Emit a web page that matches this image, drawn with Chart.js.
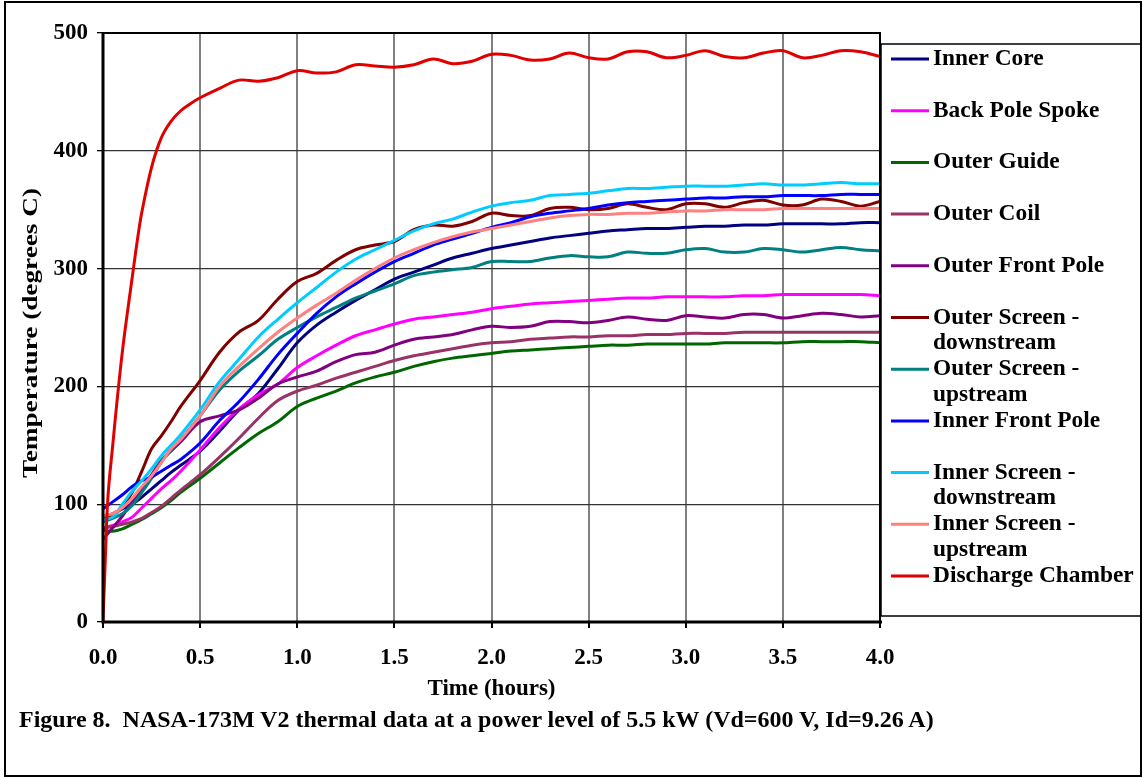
<!DOCTYPE html>
<html>
<head>
    <title>NASA-173M V2 thermal data</title>
    <script src="https://cdn.jsdelivr.net/npm/chart.js"></script>
    <style>
        body { margin: 0; background: #fff; }
        .frame {
            position: relative;
            width: 1144px;
            height: 778px;
        }
        .border {
            position: absolute;
            left: 4px;
            top: 1px;
            width: 1134px;
            height: 772px;
            border: 2px solid #000;
            pointer-events: none;
        }
        .caption {
            position: absolute;
            left: 19px;
            top: 706px;
            font: bold 24px "Liberation Serif", serif;
            color: #000;
            white-space: pre;
        }
    </style>
</head>
<body>
    <div class="frame">
        <canvas id="thermalChart" width="1144" height="778"></canvas>
        <div class="border"></div>
        <div class="caption">Figure 8.  NASA-173M V2 thermal data at a power level of 5.5 kW (Vd=600 V, Id=9.26 A)</div>
    </div>

    <script>
        // time in hours, shared by all series except the discharge chamber
        const times = [0, 0.05, 0.1, 0.15, 0.2, 0.25, 0.3, 0.35, 0.4,
            0.5, 0.6, 0.7, 0.8, 0.9, 1.0, 1.1, 1.2, 1.3, 1.4, 1.5,
            1.6, 1.7, 1.8, 1.9, 2.0, 2.1, 2.2, 2.3, 2.4, 2.5,
            2.6, 2.7, 2.8, 2.9, 3.0, 3.1, 3.2, 3.3, 3.4, 3.5,
            3.6, 3.7, 3.8, 3.9, 4.0];

        const innerCore = [88, 92, 96, 100, 106, 113, 120, 127, 133,
            145, 162, 180, 194, 215, 237, 252, 263, 273, 282, 291,
            297, 303, 309, 313, 317, 320, 323, 326, 328, 330,
            332, 333, 334, 334, 335, 336, 336, 337, 337, 338,
            338, 338, 338, 339, 339];
        const backPoleSpoke = [80, 82, 85, 89, 97, 105, 113, 120, 128,
            146, 165, 181, 193, 202, 216, 226, 235, 243, 248, 253,
            257, 259, 261, 263, 266, 268, 270, 271, 272, 273,
            274, 275, 275, 276, 276, 276, 276, 277, 277, 278,
            278, 278, 278, 278, 277];
        const outerGuide = [78, 77, 79, 83, 87, 92, 97, 103, 110,
            122, 135, 148, 160, 170, 183, 190, 196, 203, 208, 212,
            217, 221, 224, 226, 228, 230, 231, 232, 233, 234,
            235, 235, 236, 236, 236, 236, 237, 237, 237, 237,
            238, 238, 238, 238, 237];
        const outerCoil = [80, 81, 83, 85, 88, 93, 98, 105, 112,
            125, 140, 156, 173, 188, 196, 201, 207, 212, 217, 222,
            226, 229, 232, 235, 237, 238, 240, 241, 242, 242,
            243, 243, 244, 244, 245, 245, 245, 246, 246, 246,
            246, 246, 246, 246, 246];
        const outerFrontPole = [70, 80, 90, 102, 113, 125, 137, 145, 153,
            170, 175, 180, 190, 202, 208, 213, 221, 227, 229, 235,
            240, 242, 244, 248, 251, 250, 251, 255, 255, 254,
            256, 259, 257, 256, 260, 259, 258, 261, 261, 258,
            260, 262, 261, 259, 260];
        const outerScreenDown = [90, 90, 98, 110, 128, 147, 158, 170, 183,
            205, 229, 246, 256, 274, 289, 296, 307, 316, 320, 323,
            333, 337, 336, 340, 347, 345, 345, 351, 352, 350,
            351, 355, 352, 350, 355, 355, 352, 356, 358, 354,
            354, 359, 357, 353, 357];
        const outerScreenUp = [85, 88, 92, 99, 110, 122, 136, 146, 155,
            175, 197, 213, 226, 240, 250, 259, 267, 275, 281, 287,
            294, 297, 299, 301, 306, 306, 306, 309, 311, 310,
            310, 314, 313, 313, 316, 317, 314, 314, 317, 316,
            314, 316, 318, 316, 315];
        const innerFrontPole = [96, 102, 108, 115, 120, 123, 128, 133, 138,
            152, 171, 187, 206, 227, 245, 262, 276, 287, 297, 306,
            313, 320, 325, 330, 335, 339, 344, 347, 349, 351,
            354, 356, 357, 358, 359, 360, 360, 361, 361, 362,
            362, 362, 363, 363, 363];
        const innerScreenDown = [87, 89, 100, 111, 120, 130, 141, 150, 159,
            180, 204, 223, 242, 257, 271, 284, 297, 308, 316, 324,
            332, 338, 342, 348, 353, 356, 358, 362, 363, 364,
            366, 368, 368, 369, 370, 370, 370, 371, 372, 371,
            371, 372, 373, 372, 372];
        const innerScreenUp = [90, 92, 97, 105, 115, 124, 135, 147, 155,
            175, 200, 217, 232, 246, 258, 269, 279, 290, 300, 309,
            316, 322, 327, 331, 334, 337, 340, 343, 345, 346,
            346, 347, 347, 348, 349, 349, 350, 350, 350, 351,
            351, 351, 351, 351, 351];

        // discharge chamber has its own, denser start
        const chamberTimes = [0, 0.01, 0.025, 0.05, 0.075, 0.1, 0.125, 0.15, 0.175,
            0.2, 0.25, 0.3, 0.35, 0.4, 0.45, 0.5, 0.6, 0.7, 0.8, 0.9,
            1.0, 1.1, 1.2, 1.3, 1.4, 1.5, 1.6, 1.7, 1.8, 1.9,
            2.0, 2.1, 2.2, 2.3, 2.4, 2.5, 2.6, 2.7, 2.8, 2.9,
            3.0, 3.1, 3.2, 3.3, 3.4, 3.5, 3.6, 3.7, 3.8, 3.9, 4.0];
        const dischargeChamber = [0, 45, 105, 150, 192, 230, 262, 292, 322,
            348, 386, 411, 425, 434, 440, 445, 453, 460, 459, 462,
            468, 466, 467, 473, 472, 471, 473, 478, 474, 476,
            482, 481, 477, 478, 483, 479, 478, 484, 484, 479,
            481, 485, 480, 479, 483, 485, 479, 481, 485, 484, 480];

        const seriesNames = ['Inner Core', 'Back Pole Spoke', 'Outer Guide', 'Outer Coil',
            'Outer Front Pole', 'Outer Screen - downstream', 'Outer Screen - upstream',
            'Inner Front Pole', 'Inner Screen - downstream', 'Inner Screen - upstream',
            'Discharge Chamber'];
        const seriesColors = ['#000080', '#ff00ff', '#006600', '#993366', '#800080',
            '#800000', '#008080', '#0000ff', '#00ccff', '#ff8080', '#e00000'];
        const seriesValues = [innerCore, backPoleSpoke, outerGuide, outerCoil, outerFrontPole,
            outerScreenDown, outerScreenUp, innerFrontPole, innerScreenDown, innerScreenUp,
            dischargeChamber];
        const seriesTimes = [times, times, times, times, times, times, times, times, times, times,
            chamberTimes];

        const xTicks = [0, 0.5, 1, 1.5, 2, 2.5, 3, 3.5, 4];
        const yTicks = [0, 100, 200, 300, 400, 500];

        const serif = '"Liberation Serif", "Times New Roman", serif';

        // frame, axis titles and the boxed legend
        const decorPlugin = {
            id: 'decor',
            afterDatasetsDraw(chart) {
                const ctx = chart.ctx;
                const a = chart.chartArea;
                ctx.save();
                ctx.strokeStyle = '#000';
                ctx.lineWidth = 2;
                ctx.strokeRect(a.left, a.top, a.right - a.left, a.bottom - a.top);
                ctx.lineWidth = 3;
                ctx.beginPath();
                ctx.moveTo(a.left, a.top - 1);
                ctx.lineTo(a.left, a.bottom);
                ctx.lineTo(a.right + 2, a.bottom);
                ctx.stroke();
                ctx.restore();
            },
            afterDraw(chart) {
                const ctx = chart.ctx;
                const a = chart.chartArea;
                ctx.save();
                ctx.fillStyle = '#000';

                // y title, stretched along its length like the original
                ctx.font = 'bold 22px ' + serif;
                ctx.textAlign = 'center';
                ctx.textBaseline = 'middle';
                ctx.translate(31, 333);
                ctx.rotate(-Math.PI / 2);
                const yTitle = 'Temperature (degrees C)';
                const w = ctx.measureText(yTitle).width;
                ctx.scale(290 / w, 1);
                ctx.fillText(yTitle, 0, 0);
                ctx.setTransform(1, 0, 0, 1, 0, 0);

                // x title
                ctx.font = 'bold 23px ' + serif;
                ctx.fillText('Time (hours)', (a.left + a.right) / 2, 689);

                // legend box
                const bx = 881, by = 44, bw = 260, bh = 572;
                ctx.fillStyle = '#fff';
                ctx.fillRect(bx, by, bw, bh);
                ctx.strokeStyle = '#000';
                ctx.lineWidth = 1.5;
                ctx.strokeRect(bx, by, bw, bh);

                ctx.font = 'bold 23.4px ' + serif;
                ctx.textAlign = 'left';
                ctx.textBaseline = 'middle';
                let row = 0;
                const rowH = 25.85;
                seriesNames.forEach((name, i) => {
                    const lines = name.includes(' - ') ? [name.split(' - ')[0] + ' -', name.split(' - ')[1]] : [name];
                    const y0 = 59 + row * rowH;
                    ctx.strokeStyle = seriesColors[i];
                    ctx.lineWidth = 3;
                    ctx.beginPath();
                    ctx.moveTo(891, y0);
                    ctx.lineTo(929, y0);
                    ctx.stroke();
                    ctx.fillStyle = '#000';
                    lines.forEach((ln, k) => ctx.fillText(ln, 933, y0 + k * rowH));
                    row += Math.max(lines.length, 2);
                });
                ctx.restore();
            }
        };

        const datasets = seriesNames.map((name, i) => ({
            label: name,
            data: seriesTimes[i].map((t, k) => ({ x: t, y: seriesValues[i][k] })),
            borderColor: seriesColors[i],
            borderWidth: 3,
            pointRadius: 0,
            tension: 0.35,
            fill: false,
            order: seriesNames.length - i,
        }));

        new Chart(document.getElementById('thermalChart').getContext('2d'), {
            type: 'line',
            data: { datasets: datasets },
            options: {
                responsive: false,
                animation: false,
                layout: { padding: { top: 33, right: 264, left: 0, bottom: 0 } },
                plugins: {
                    legend: { display: false },
                    tooltip: { enabled: false },
                },
                scales: {
                    x: {
                        type: 'linear',
                        min: 0,
                        max: 4,
                        afterBuildTicks: (s) => { s.ticks = xTicks.map(v => ({ value: v })); },
                        afterFit: (s) => { s.height = 156; },
                        ticks: {
                            callback: (v) => Number(v).toFixed(1),
                            font: { family: serif, size: 23, weight: 'bold' },
                            color: '#000',
                            padding: 16,
                            maxRotation: 0,
                        },
                        grid: { color: '#808080', lineWidth: 2, tickLength: 6, tickColor: '#000' },
                        border: { display: false },
                    },
                    y: {
                        min: 0,
                        max: 500,
                        afterBuildTicks: (s) => { s.ticks = yTicks.map(v => ({ value: v })); },
                        afterFit: (s) => { s.width = 103; },
                        ticks: {
                            font: { family: serif, size: 23, weight: 'bold' },
                            color: '#000',
                            padding: 9,
                        },
                        grid: { color: '#333', lineWidth: 1.3, tickLength: 6, tickColor: '#000' },
                        border: { display: false },
                    },
                },
            },
            plugins: [decorPlugin],
        });
    </script>
</body>
</html>
